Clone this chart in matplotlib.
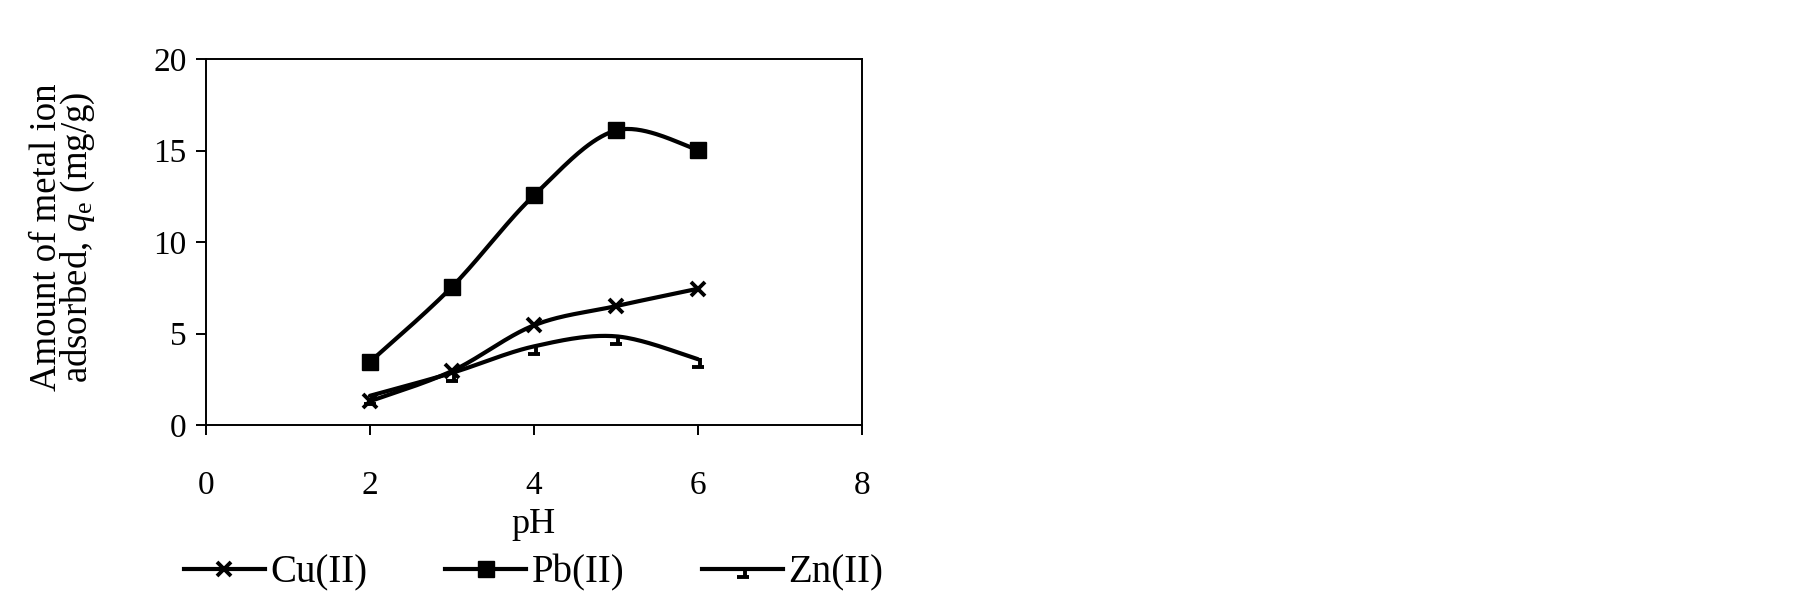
import numpy as np
import matplotlib
matplotlib.use("Agg")
import matplotlib.pyplot as plt
from matplotlib.path import Path

plt.rcParams["font.family"] = ["Liberation Serif", "DejaVu Serif"]
plt.rcParams["mathtext.fontset"] = "custom"
plt.rcParams["mathtext.rm"] = "Liberation Serif"
plt.rcParams["mathtext.it"] = "Liberation Serif:italic"
plt.rcParams["font.size"] = 24

# ------------------------------------------------------------
# data
PH = [2, 3, 4, 5, 6]
CU = [1.3, 2.95, 5.45, 6.5, 7.45]
PB = [3.45, 7.55, 12.55, 16.1, 15.05]
ZN = [1.6, 2.85, 4.3, 4.85, 3.6]
SERIES_NAMES = ["Cu(II)", "Pb(II)", "Zn(II)"]

X_TICKS = [0, 2, 4, 6, 8]
Y_TICKS = [0, 5, 10, 15, 20]

# odd Excel marker used for Zn: small bar under a short vertical stroke
ZN_MARKER = Path([(0.15, 0.1), (0.15, -0.8), (-0.6, -0.8), (0.6, -0.8)],
                 [Path.MOVETO, Path.LINETO, Path.MOVETO, Path.LINETO])


def smooth(x, y, n=40):
    """Excel-like smoothed line (Catmull-Rom through the points)."""
    p = np.column_stack([x, y]).astype(float)
    pts = np.vstack([p[0], p, p[-1]])
    out = []
    t = np.linspace(0, 1, n)[:, None]
    for i in range(1, len(pts) - 2):
        p0, p1, p2, p3 = pts[i - 1], pts[i], pts[i + 1], pts[i + 2]
        c1 = p1 + (p2 - p0) / 6
        c2 = p2 - (p3 - p1) / 6
        seg = ((1 - t) ** 3 * p1 + 3 * (1 - t) ** 2 * t * c1
               + 3 * (1 - t) * t ** 2 * c2 + t ** 3 * p2)
        out.append(seg if i == 1 else seg[1:])
    seg = np.vstack(out)
    return seg[:, 0], seg[:, 1]


fig = plt.figure(figsize=(18.05, 5.97), dpi=100)
ax = fig.add_axes([0.1141, 0.288, 0.3634, 0.613])

LW = 3.0
styles = [
    dict(marker="x", ms=10, mew=2.8),
    dict(marker="s", ms=11, mew=1.0),
    dict(marker=ZN_MARKER, ms=12, mew=2.8),
]
handles = []
for yv, name, st in zip([CU, PB, ZN], SERIES_NAMES, styles):
    xs, ys = smooth(PH, yv)
    ax.plot(xs, ys, color="black", lw=LW, solid_capstyle="round", zorder=2)
    ax.plot(PH, yv, linestyle="none", color="black", zorder=3, **st)
    h, = ax.plot([], [], color="black", lw=LW, label=name, **st)
    handles.append(h)

ax.set_xlim(0, 8)
ax.set_ylim(0, 20)
ax.set_xticks(X_TICKS)
ax.set_yticks(Y_TICKS)
ax.tick_params(axis="x", direction="out", length=7, width=1.4, pad=25.5)
ax.tick_params(axis="y", direction="out", length=7, width=1.4, pad=7)
for sp in ax.spines.values():
    sp.set_linewidth(1.4)

ax.set_xlabel("pH", labelpad=5.5, fontsize=26)
fig.text(0.035, 0.603, "Amount of metal ion\nadsorbed, $q_{\\mathrm{e}}$ (mg/g)",
         rotation=90, ha="center", va="center", linespacing=0.8,
         fontsize=26.5)

ax.legend(handles=handles, loc="center", bbox_to_anchor=(0.5, -0.405),
          ncol=3, frameon=False, fontsize=28, handlelength=2.07,
          handletextpad=0.15, columnspacing=2.0, borderaxespad=0)

fig.savefig("out.png", dpi=100)
